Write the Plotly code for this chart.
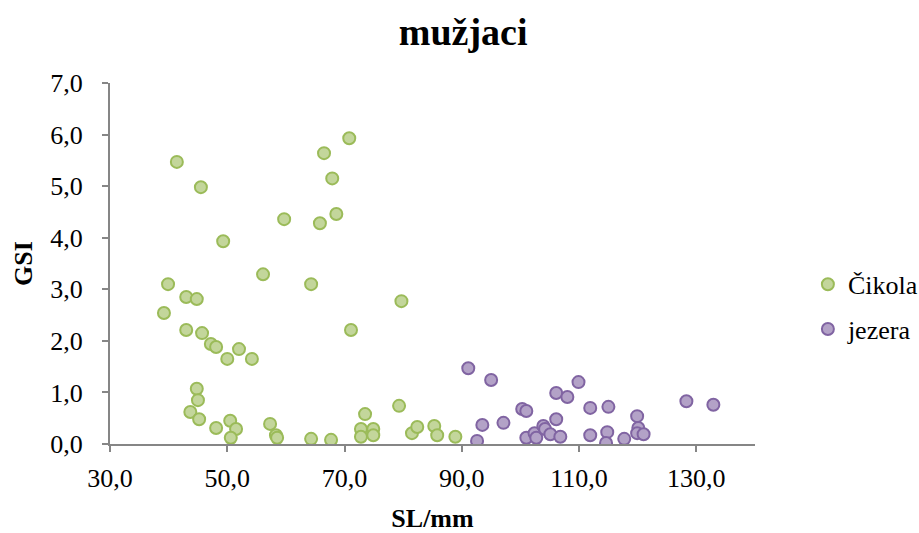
import plotly.graph_objects as go

# Čikola
cikola_sl = [41.4, 45.5, 49.3, 39.9, 39.2, 43.0, 44.8, 43.0, 45.7, 47.2, 48.1, 50.0,
             52.0, 54.2, 56.1, 59.7, 64.3, 65.8, 66.5, 67.9, 68.6, 70.8, 71.1, 79.7,
             44.8, 45.0, 43.7, 45.2, 48.1, 50.5, 51.5, 50.6, 57.3, 58.3, 58.5, 64.3,
             67.7, 73.5, 72.8, 72.8, 74.9, 74.9, 79.3, 81.5, 82.4, 85.3, 85.8, 88.9]
cikola_gsi = [5.47, 4.98, 3.93, 3.10, 2.54, 2.85, 2.81, 2.21, 2.15, 1.94, 1.88, 1.65,
              1.84, 1.65, 3.29, 4.36, 3.10, 4.28, 5.64, 5.15, 4.46, 5.93, 2.21, 2.77,
              1.07, 0.85, 0.62, 0.48, 0.31, 0.45, 0.29, 0.12, 0.39, 0.17, 0.12, 0.10,
              0.08, 0.58, 0.29, 0.14, 0.29, 0.17, 0.74, 0.21, 0.33, 0.35, 0.17, 0.14]

# jezera
jezera_sl = [91.1, 95.0, 93.5, 92.6, 97.1, 100.3, 101.0, 101.0, 102.4, 102.7, 103.9,
             104.2, 105.1, 106.1, 106.1, 106.8, 108.0, 109.9, 111.9, 111.9, 115.0,
             114.8, 114.6, 117.7, 119.9, 120.1, 119.9, 121.0, 128.3, 132.9]
jezera_gsi = [1.47, 1.24, 0.37, 0.06, 0.41, 0.68, 0.64, 0.12, 0.21, 0.12, 0.35,
              0.29, 0.19, 0.48, 0.99, 0.14, 0.91, 1.20, 0.70, 0.17, 0.72,
              0.23, 0.02, 0.10, 0.54, 0.31, 0.21, 0.19, 0.83, 0.76]

x_ticks = [30, 50, 70, 90, 110, 130]
y_ticks = [0, 1, 2, 3, 4, 5, 6, 7]

FONT = "Liberation Serif"

fig = go.Figure()
fig.add_trace(go.Scatter(
    x=cikola_sl, y=cikola_gsi, mode="markers", name="Čikola", legendgroup="c",
    marker=dict(size=12, color="#c3d69b", line=dict(color="#9bbb59", width=2)),
))
fig.add_trace(go.Scatter(
    x=jezera_sl, y=jezera_gsi, mode="markers", name="jezera", legendgroup="j",
    marker=dict(size=12, color="#b3a2c7", line=dict(color="#8064a2", width=2)),
))

fig.update_layout(
    width=919, height=533,
    margin=dict(l=110, r=164, t=83, b=89, autoexpand=False),
    paper_bgcolor="white", plot_bgcolor="white",
    separators=",.",
    font=dict(family=FONT, size=26, color="black"),
    title=dict(text="<b>mužjaci</b>", x=0.504, xanchor="center", y=0.94,
               yanchor="middle", font=dict(family=FONT, size=38)),
    legend=dict(x=1.082, xanchor="left", y=0.38, yanchor="middle",
                traceorder="grouped", tracegroupgap=8,
                font=dict(family=FONT, size=26)),
)
fig.update_xaxes(
    range=[30, 140], tickvals=x_ticks, tickformat=".1f",
    showline=True, linecolor="#868686", linewidth=2,
    ticks="outside", ticklen=6, tickcolor="#868686", tickwidth=2,
    showgrid=False, zeroline=False, ticklabelstandoff=4,
    title=dict(text="<b>SL/mm</b>", standoff=25, font=dict(family=FONT, size=26)),
)
fig.update_yaxes(
    range=[0, 7], tickvals=y_ticks, tickformat=".1f",
    showline=True, linecolor="#868686", linewidth=2,
    ticks="outside", ticklen=6, tickcolor="#868686", tickwidth=2,
    showgrid=False, zeroline=False, ticklabelstandoff=14,
    title=dict(text="<b>GSI</b>", standoff=10, font=dict(family=FONT, size=26)),
)

fig.write_html("out.html", config={"displayModeBar": False},
               post_script="document.body.style.margin='0';")
